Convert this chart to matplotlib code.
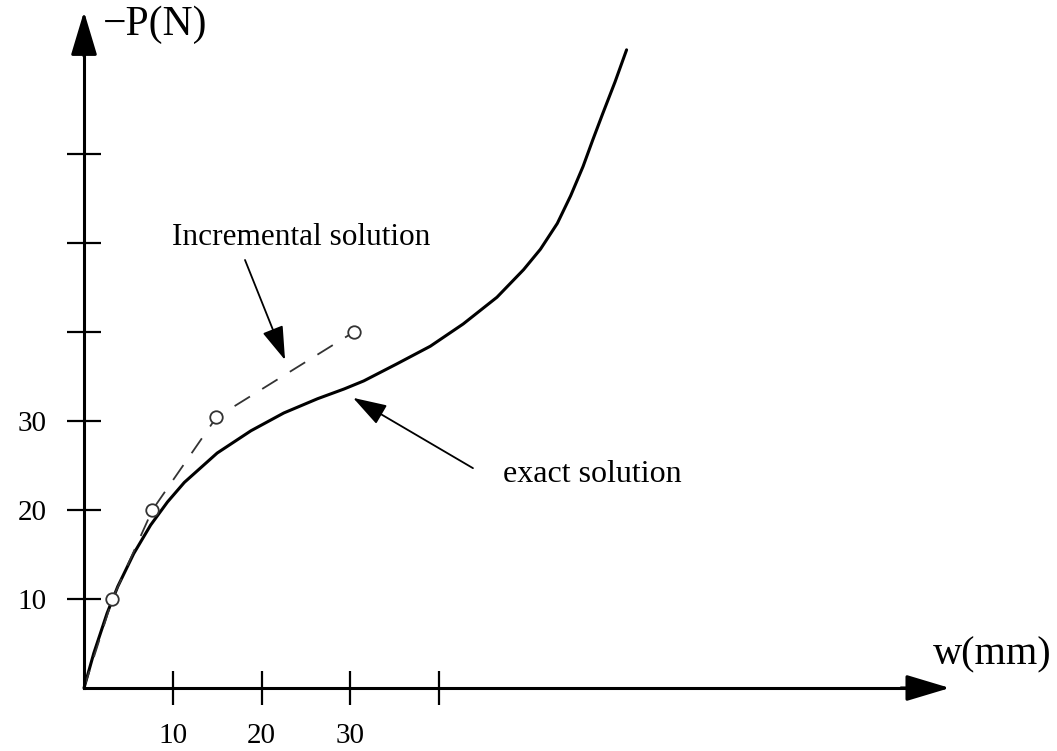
import matplotlib
matplotlib.use('Agg')
import matplotlib.pyplot as plt

plt.rcParams['font.family'] = ['Liberation Serif', 'DejaVu Serif']

# exact solution
exact_w = [0, 1.1, 2.6, 3.8, 5.6, 7.5, 9.4, 11.3, 15.0, 18.8, 22.5, 26.3, 29.3,
           31.5, 35.2, 39.0, 42.7, 46.5, 49.5, 51.4, 53.3, 54.8, 56.2, 57.3, 58.4,
           59.8, 61.1]
exact_p = [0, 3.9, 8.4, 11.4, 15.1, 18.3, 20.9, 23.1, 26.4, 28.9, 30.9, 32.5, 33.6,
           34.5, 36.4, 38.4, 40.9, 43.9, 47.0, 49.3, 52.2, 55.3, 58.6, 61.6, 64.5,
           68.1, 71.7]

# incremental solution
incr_w = [0, 3.2, 7.7, 14.9, 30.4]
incr_p = [0, 10, 20, 30.4, 40]

x_ticks = [10, 20, 30, 40]
x_labels = ['10', '20', '30', '']
y_ticks = [10, 20, 30, 40, 50, 60]
y_labels = ['10', '20', '30', '', '', '']

fig = plt.figure(figsize=(10.57, 7.51), dpi=100)
ax = fig.add_axes([0, 0, 1, 1])
ax.set_xlim(-9.46, 109.57)
ax.set_ylim(-7.08, 77.3)

# axes through origin
for s in ['top', 'right']:
    ax.spines[s].set_visible(False)
ax.spines['left'].set_position(('data', 0))
ax.spines['bottom'].set_position(('data', 0))
ax.spines['left'].set_bounds(0, 72)
ax.spines['bottom'].set_bounds(0, 93)
ax.spines['left'].set_linewidth(2.2)
ax.spines['bottom'].set_linewidth(2.2)

ax.set_xticks(x_ticks)
ax.set_xticklabels(x_labels)
ax.set_yticks(y_ticks)
ax.set_yticklabels(y_labels)
ax.tick_params(direction='inout', length=24, width=1.6, labelsize=21)
ax.tick_params(axis='x', pad=13)
ax.tick_params(axis='y', pad=15)

arrow_axis = dict(arrowstyle='-|>,head_length=0.9,head_width=0.27', color='black',
                  lw=2.2, shrinkA=0, shrinkB=0, mutation_scale=30)
ax.annotate('', xy=(97.5, 0), xytext=(92, 0), arrowprops=arrow_axis)
ax.annotate('', xy=(0, 76), xytext=(0, 71), arrowprops=arrow_axis)

ax.text(2.1, 74.5, '−P(N)', fontsize=30, va='center', ha='left')
ax.text(95.6, 3.7, 'w(mm)', fontsize=29, va='center', ha='left')

ax.plot(exact_w, exact_p, color='black', lw=2.2, solid_capstyle='round',
        solid_joinstyle='round')
ax.plot(incr_w, incr_p, color='#333333', lw=1.3, dashes=(10, 8))
ax.plot(incr_w[1:], incr_p[1:], ls='none', marker='o', ms=9, mfc='white',
        mec='#333333', mew=1.3)

arrow_note = dict(arrowstyle='-|>,head_length=1.4,head_width=0.45', color='black',
                  lw=1.3, shrinkA=0, shrinkB=0, mutation_scale=15)
ax.annotate('', xy=(22.64, 36.85), xytext=(18.13, 48.09), arrowprops=arrow_note)
ax.annotate('', xy=(30.3, 32.6), xytext=(43.8, 24.7), arrowprops=arrow_note)
ax.text(9.9, 50.6, 'Incremental solution', fontsize=22.5, va='center', ha='left')
ax.text(47.2, 24.0, 'exact solution', fontsize=23, va='center', ha='left')

fig.savefig('out.png', dpi=100)
